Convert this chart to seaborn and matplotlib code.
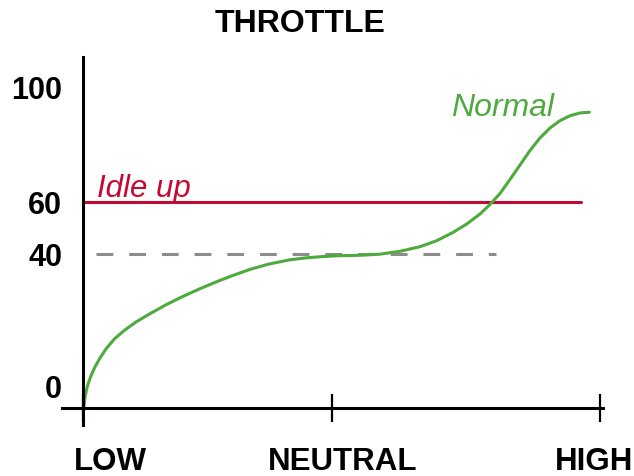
import numpy as np
import matplotlib
matplotlib.use("Agg")
import matplotlib.pyplot as plt
import seaborn as sns

# Stick position (0 = LOW, 100 = HIGH) and throttle (%) for the "Normal" curve
stick = [0.0, 0.19, 0.44, 0.83, 1.49, 2.26, 3.23, 4.51, 6.13, 8.07, 10.31,
         12.96, 16.19, 19.40, 22.63, 25.86, 29.07, 32.30, 35.84, 40.04, 43.27,
         46.48, 49.71, 53.58, 57.45, 61.32, 65.18, 68.41, 71.62, 74.22, 76.79,
         78.72, 80.66, 82.59, 84.53, 86.46, 88.39, 90.33, 92.26, 94.20, 96.13,
         97.93]
normal = [-6.87, -6.5, -3.27, -0.46, 2.60, 5.34, 8.09, 11.15, 14.14, 16.76,
          19.30, 21.77, 24.61, 27.11, 29.40, 31.54, 33.50, 35.30, 36.89, 38.23,
          38.84, 39.24, 39.48, 39.60, 39.94, 41.04, 42.81, 45.12, 48.35, 51.54,
          55.38, 59.04, 62.96, 67.83, 72.87, 77.91, 82.26, 85.74, 88.28, 90.02,
          90.96, 91.23]

# Idle up: flat throttle across the stick travel
idle_stick = [0.0, 96.3]
idle_up = [60, 60]

# Mid-stick reference level
ref_stick = [2.5, 79.9]
ref_level = [40, 40]

x_labels = ["LOW", "NEUTRAL", "HIGH"]
x_ticks = [0, 48.2, 100]
y_labels = ["0", "40", "60", "100"]
y_ticks = [0, 40, 60, 100]

GREEN = "#4DAA3D"
RED = "#C40A32"
GREY = "#8C8C8C"

sns.set_theme(style="white")
plt.rcParams["font.family"] = ["Liberation Sans", "DejaVu Sans"]
plt.rcParams["text.color"] = "black"
plt.rcParams["xtick.color"] = "black"
plt.rcParams["ytick.color"] = "black"

fig = plt.figure(figsize=(6.34, 4.77), dpi=100)
ax = fig.add_axes([62 / 634, 68 / 477, 541 / 634, 351 / 477])

# Piecewise-linear vertical scale so the labelled levels sit where drawn
Y_KNOTS = [-20, 0, 40, 60, 100, 120]
H_KNOTS = [-42.5, 23, 154, 206, 321, 378.5]


def fwd(v):
    return np.interp(v, Y_KNOTS, H_KNOTS)


def inv(h):
    return np.interp(h, H_KNOTS, Y_KNOTS)


ax.set_yscale("function", functions=(fwd, inv))

sns.lineplot(x=ref_stick, y=ref_level, ax=ax, color=GREY, linewidth=2.2,
             linestyle=(0, (5.5, 5.2)), sort=False)
sns.lineplot(x=idle_stick, y=idle_up, ax=ax, color=RED, linewidth=2.2, sort=False)
sns.lineplot(x=stick, y=normal, ax=ax, color=GREEN, linewidth=2.2, sort=False,
             solid_joinstyle="round", solid_capstyle="round")

ax.set_xlim(-4.06, 100.58)
ax.set_ylim(-7.02, 110.43)

for side in ("top", "right"):
    ax.spines[side].set_visible(False)
ax.spines["left"].set_position(("data", 0))
ax.spines["left"].set_bounds(-12.2, 110.43)
for side in ("left", "bottom"):
    ax.spines[side].set_color("black")
    ax.spines[side].set_linewidth(2.2)

ax.set_xticks(x_ticks)
ax.set_xticklabels([])
ax.tick_params(axis="x", direction="inout", length=19.5, width=1.6,
               color="black", bottom=True)

ax.set_yticks(y_ticks)
ax.set_yticklabels(y_labels, fontsize=22, fontweight="bold", color="black")
ax.tick_params(axis="y", length=0, pad=15)
ax.yaxis.set_minor_locator(matplotlib.ticker.NullLocator())
ax.set_xlabel("")
ax.set_ylabel("")
ax.grid(False)

# Stick-position labels under the axis
label_dx = [19.4, 7.2, -4.0]
for pos, lab, dx in zip(x_ticks, x_labels, label_dx):
    ax.annotate(lab, xy=(pos, 0), xycoords=("data", "axes fraction"),
                xytext=(dx, -38.2), textcoords="offset points",
                ha="center", va="center", fontsize=22.5, fontweight="bold",
                color="black")

ax.annotate("Idle up", xy=(2.7, idle_up[0]), xytext=(0, 4.3),
            textcoords="offset points", ha="left", va="baseline",
            fontsize=22.5, fontstyle="italic", color=RED)
ax.annotate("Normal", xy=(71.2, 90.3), ha="left", va="baseline",
            fontsize=23, fontstyle="italic", color=GREEN)

fig.suptitle("THROTTLE", x=300.5 / 634, y=1 - 24.5 / 477, ha="center",
             va="center", fontsize=23, fontweight="bold", color="black")

fig.savefig("out.png", dpi=100)
